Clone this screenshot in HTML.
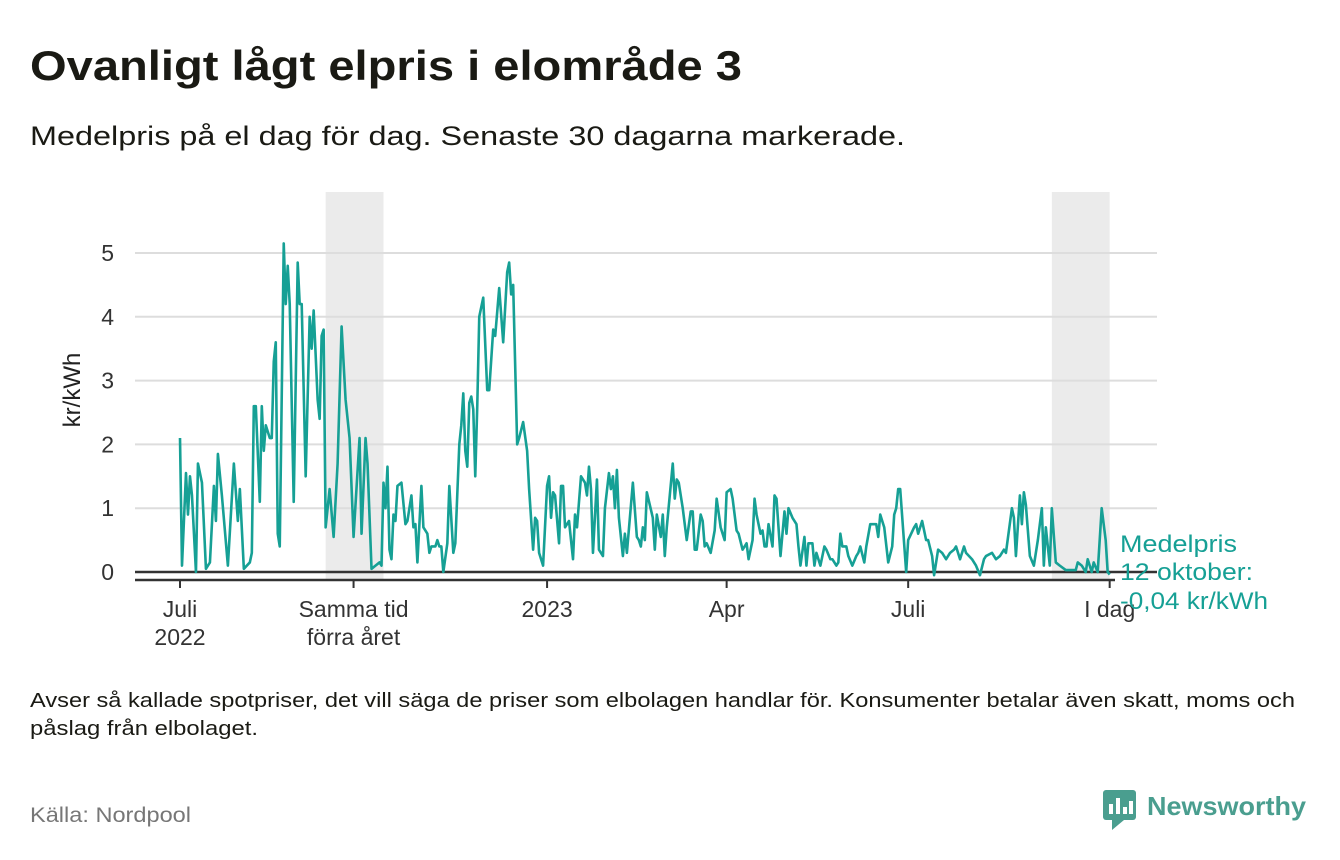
<!DOCTYPE html>
<html><head><meta charset="utf-8"><style>
body{margin:0;background:#fff;font-family:"Liberation Sans",sans-serif;}
#wrap{position:relative;width:1340px;height:860px;overflow:hidden;}
</style></head><body>
<div id="wrap">
<svg id="chart" width="1340" height="860">
<text x="30" y="80" font-size="42" font-weight="bold" fill="#1a1a14" textLength="712" lengthAdjust="spacingAndGlyphs">Ovanligt lågt elpris i elområde 3</text>
<text x="30" y="145" font-size="27" fill="#1a1a14" textLength="875" lengthAdjust="spacingAndGlyphs">Medelpris på el dag för dag.  Senaste 30 dagarna markerade.</text>
<g id="plot"></g>
<text transform="translate(80,390) rotate(-90)" text-anchor="middle" font-size="24" fill="#222">kr/kWh</text>
<text x="1120" y="552" font-size="24" fill="#16a095" textLength="117" lengthAdjust="spacingAndGlyphs">Medelpris</text>
<text x="1120" y="580" font-size="24" fill="#16a095" textLength="133" lengthAdjust="spacingAndGlyphs">12 oktober:</text>
<text x="1120" y="609" font-size="24" fill="#16a095" textLength="148" lengthAdjust="spacingAndGlyphs">-0,04 kr/kWh</text>
<text x="30" y="707" font-size="20" fill="#1a1a14" textLength="1265" lengthAdjust="spacingAndGlyphs">Avser så kallade spotpriser, det vill säga de priser som elbolagen handlar för. Konsumenter betalar även skatt, moms och</text>
<text x="30" y="735" font-size="20" fill="#1a1a14" textLength="228" lengthAdjust="spacingAndGlyphs">påslag från elbolaget.</text>
<text x="30" y="822" font-size="21" fill="#777" textLength="161" lengthAdjust="spacingAndGlyphs">Källa: Nordpool</text>
<g>
<rect x="1103" y="790" width="33" height="30" rx="3" fill="#4a9e8f"/>
<polygon points="1112,820 1124,820 1112,830" fill="#4a9e8f"/>
<rect x="1109" y="804" width="4" height="10" fill="#fff"/><rect x="1116" y="798" width="4" height="16" fill="#fff"/><rect x="1123" y="807" width="4" height="7" fill="#fff"/><rect x="1129" y="801" width="4" height="13" fill="#fff"/>
<text x="1147" y="815" font-size="26" font-weight="bold" fill="#4a9e8f" textLength="159" lengthAdjust="spacingAndGlyphs">Newsworthy</text>
</g>
</svg>
</div>
<script>
const days=[0,1,3,4,5,6,8,9,11,13,15,17,18,19,21,24,27,29,30,32,35,36,37,38,40,41,42,43,45,46,47,48,49,50,52,53,54,55,57,59,60,61,63,65,66,67,69,70,71,72,73,75,77,79,81,83,85,87,90,91,93,94,96,98,100,101,102,103,104,105,106,107,108,109,111,113,114,116,117,118,119,121,122,124,125,126,128,129,130,131,132,134,135,137,138,140,141,142,143,144,145,146,147,148,149,150,152,154,155,157,158,160,162,164,165,166,167,169,170,172,174,175,177,178,179,180,182,184,185,186,187,188,190,191,192,193,195,197,198,199,201,203,204,205,206,207,209,210,212,213,215,216,217,218,219,220,222,223,224,227,229,230,231,232,233,234,237,238,239,241,242,243,244,247,248,249,250,252,254,256,257,258,259,261,262,263,264,266,268,269,271,273,274,276,277,279,280,282,284,285,287,288,289,291,292,293,294,295,297,298,299,301,303,304,305,307,309,310,311,313,314,315,317,318,319,321,323,324,326,327,329,330,331,332,334,335,337,339,340,341,343,344,346,349,350,351,353,355,357,358,359,360,361,364,365,368,369,370,372,374,375,377,378,380,382,384,386,388,389,391,393,394,397,399,401,403,404,407,409,411,413,414,417,418,419,421,422,423,424,426,428,430,432,433,434,436,437,439,441,444,446,449,450,452,454,455,457,458,460,462,464,465,466];
const prices=[2.1,0.1,1.55,0.9,1.5,1.2,0,1.7,1.4,0.05,0.15,1.35,0.8,1.85,1.2,0.1,1.7,0.8,1.3,0.05,0.15,0.3,2.6,2.6,1.1,2.6,1.9,2.3,2.1,2.1,3.3,3.6,0.6,0.4,5.15,4.2,4.8,4.2,1.1,4.85,4.2,4.2,1.5,4.0,3.5,4.1,2.7,2.4,3.7,3.8,0.7,1.3,0.55,1.7,3.85,2.7,2.1,0.55,2.1,0.6,2.1,1.7,0.05,0.1,0.15,0.1,1.4,1.0,1.65,0.35,0.2,0.9,0.8,1.35,1.4,0.75,0.8,1.2,0.7,0.75,0.15,1.35,0.7,0.6,0.3,0.4,0.4,0.5,0.4,0.4,0,0.45,1.35,0.3,0.45,2.0,2.3,2.8,1.9,1.65,2.65,2.75,2.55,1.5,2.6,4.0,4.3,2.85,2.85,3.8,3.7,4.45,3.6,4.7,4.85,4.35,4.5,2.0,2.1,2.35,1.9,1.3,0.35,0.85,0.8,0.3,0.1,1.35,1.5,0.85,1.25,1.2,0.45,1.35,1.35,0.7,0.8,0.2,0.9,0.7,1.5,1.4,1.2,1.65,1.3,0.3,1.45,0.35,0.25,1.0,1.55,1.3,1.5,1.0,1.6,0.85,0.25,0.6,0.3,1.4,0.55,0.5,0.4,0.7,0.5,1.25,0.85,0.35,0.9,0.55,0.9,0.25,0.7,1.7,1.15,1.45,1.4,1.0,0.5,0.95,0.95,0.35,0.35,0.9,0.8,0.4,0.45,0.3,0.65,1.15,0.7,0.5,1.25,1.3,1.15,0.65,0.6,0.35,0.45,0.2,0.5,1.15,0.9,0.6,0.65,0.4,0.4,0.75,0.4,1.2,1.15,0.25,0.95,0.6,1.0,0.85,0.75,0.4,0.1,0.55,0.1,0.45,0.45,0.1,0.3,0.1,0.4,0.35,0.2,0.2,0.1,0.15,0.6,0.4,0.4,0.25,0.1,0.25,0.3,0.4,0.15,0.4,0.75,0.75,0.55,0.9,0.7,0.15,0.4,0.9,1.0,1.3,1.3,0,0.5,0.7,0.75,0.6,0.8,0.5,0.5,0.25,-0.05,0.35,0.3,0.2,0.3,0.35,0.4,0.2,0.4,0.3,0.2,0.1,-0.05,0.2,0.25,0.3,0.2,0.25,0.35,0.3,1.0,0.85,0.25,1.2,0.75,1.25,1.05,0.25,0.1,0.5,1.0,0.1,0.7,0.1,1.0,0.15,0.1,0.03,0.03,0.03,0.15,0.1,0,0.2,0,0.15,0,1.0,0.5,0,-0.04];
const yTicks=[0,1,2,3,4,5];
const xTickDays=[0,87,184,274,365,466];
const xTickLabels=[["Juli","2022"],["Samma tid","förra året"],["2023"],["Apr"],["Juli"],["I dag"]];
const shadeRanges=[[73,102],[437,466]];

const NS="http://www.w3.org/2000/svg";
const plot=document.getElementById('plot');
const X=d=>180+d*1.995;
const Y=v=>572-v*63.8;
function mk(tag,attrs){const e=document.createElementNS(NS,tag);for(const k in attrs)e.setAttribute(k,attrs[k]);plot.appendChild(e);return e;}
shadeRanges.forEach(r=>{
  const e=mk('rect',{x:X(r[0]),y:192,width:X(r[1])-X(r[0]),height:388,fill:'#ebebeb'});
  
  
});
yTicks.forEach(t=>{
  const g=mk('line',{x1:135,x2:1157,y1:Y(t),y2:Y(t),stroke:t===0?'#333':'#ddd','stroke-width':t===0?2.5:2});
  
  
  const l=mk('text',{x:114,y:Y(t)+8,'text-anchor':'end','font-size':23,fill:'#333'});
  l.textContent=t;
  
  
});
const ax=mk('line',{x1:135,x2:1115,y1:580,y2:580,stroke:'#333','stroke-width':2.5});


xTickDays.forEach((d,i)=>{
  const t=mk('line',{x1:X(d),x2:X(d),y1:580,y2:588,stroke:'#333','stroke-width':2});
  
  
  xTickLabels[i].forEach((s,j)=>{
    const l=mk('text',{x:X(d),y:617+j*28,'text-anchor':'middle','font-size':23,fill:'#333'});
    l.textContent=s;
    
    
  });
});
const p=mk('polyline',{points:days.map((d,i)=>X(d)+','+Y(prices[i])).join(' '),fill:'none',stroke:'#16a095','stroke-width':2.6,'stroke-linejoin':'round'});


</script>
</body></html>
